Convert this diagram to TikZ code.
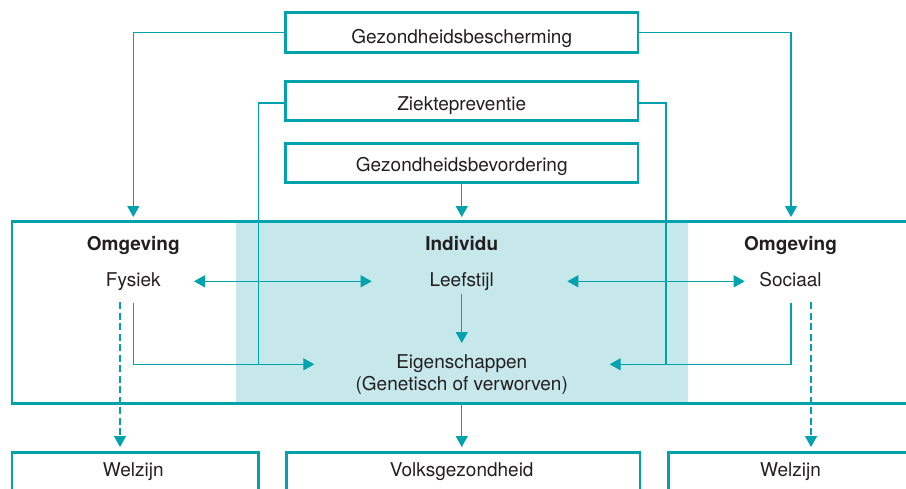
\documentclass[tikz,border=0pt]{standalone}
\usepackage{fontspec}
\setmainfont{TeX Gyre Heros}
\usetikzlibrary{arrows.meta}
\definecolor{tealline}{RGB}{0,163,173}
\definecolor{tealshade}{RGB}{198,232,235}
\definecolor{ink}{RGB}{35,31,32}
\begin{document}
\begin{tikzpicture}[x=1pt,y=-1pt,
  font=\fontsize{19}{22}\selectfont, text=ink,
  topbox/.style={draw=tealline, line width=2.8pt, minimum width=352.5pt,
    minimum height=39.5pt, inner sep=0pt, text depth=0pt},
  framebox/.style={draw=tealline, line width=2.8pt, inner sep=0pt, anchor=north west},
  lbl/.style={anchor=base, inner sep=0pt},
  boldlbl/.style={lbl, font=\fontsize{19}{22}\selectfont\bfseries},
  conn/.style={draw=tealline, line width=1.3pt},
  tip/.style={-{Triangle[length=11pt,width=12pt]}},
  twotips/.style={{Triangle[length=11pt,width=12pt]}-{Triangle[length=11pt,width=12pt]}},
  dashline/.style={dash pattern=on 7pt off 3.5pt}]

\useasboundingbox (0,0) rectangle (906,488);
\clip (0,0) rectangle (906,488);

% individual zone (shaded) and the surrounding frame
\node[fill=tealshade, inner sep=0pt, anchor=north west,
  minimum width=452pt, minimum height=182.2pt] (indiv) at (236,220) {};
\node[framebox, minimum width=930pt, minimum height=182.2pt] (env) at (10.5,220) {};

% the three approaches at the top
\node[topbox, text height=21.2pt] (gb)  at (461.75,32.5) {Gezondheidsbescherming};
\node[topbox, text height=18.2pt] (zp)  at (461.75,101)  {Ziektepreventie};
\node[topbox, text height=16.6pt] (gbv) at (461.75,163)  {Gezondheidsbevordering};

% outcome boxes at the bottom
\node[framebox, minimum width=246.5pt, minimum height=60pt] (welL) at (10.5,450.7) {};
\node[framebox, minimum width=353.5pt, minimum height=60pt] (vg)   at (285,450.7)  {};
\node[framebox, minimum width=300pt,   minimum height=60pt] (welR) at (667,450.7)  {};
\node[lbl] (welLt) at (133.3,476.3) {Welzijn};
\node[lbl] (vgt)   at (461.75,476.3) {Volksgezondheid};
\node[lbl] (welRt) at (790.5,476.3) {Welzijn};

% labels inside the frame
\node[boldlbl] (omgL) at (133.3,250.5) {Omgeving};
\node[boldlbl] (ind)  at (461.75,250.5) {Individu};
\node[boldlbl] (omgR) at (790.5,250.5) {Omgeving};
\node[lbl] (fys)  at (133.3,286.5)  {Fysiek};
\node[lbl] (lfs)  at (461.75,286.5) {Leefstijl};
\node[lbl] (soc)  at (790.5,286.5)  {Sociaal};
\node[lbl] (eig1) at (461.75,368)   {Eigenschappen};
\node[lbl] (eig2) at (461.75,390)   {(Genetisch of verworven)};

% connector end points
\coordinate (inL)  at (133.3,217);
\coordinate (inR)  at (791,217);
\coordinate (inM)  at (461.75,217);
\coordinate (fysA) at (194,281.3);
\coordinate (lfsA) at (371.7,281.3);
\coordinate (lfsB) at (567.3,281.3);
\coordinate (socA) at (744.7,281.3);
\coordinate (fysD) at (133.3,303.3);
\coordinate (socD) at (791,303.3);
\coordinate (eigL) at (314.3,364.3);
\coordinate (eigR) at (609.7,364.3);
\coordinate (jL)   at (258.3,364.3);
\coordinate (jR)   at (666,364.3);
\coordinate (lfsD) at (461.75,294);
\coordinate (eigT) at (461.75,343);
\coordinate (envB) at (461.75,402);
\coordinate (vgT)  at (461.75,447);
\coordinate (dL1)  at (120,302);
\coordinate (dL2)  at (120,447);
\coordinate (dR1)  at (811,302);
\coordinate (dR2)  at (811,447);

% protection acts on both environments
\draw[conn,tip] (gb.west) -| (inL);
\draw[conn,tip] (gb.east) -| (inR);
% promotion acts on the individual
\draw[conn,tip] (gbv.south) -- (inM);
% prevention reaches the individual's characteristics
\draw[conn] ([yshift=-2pt]zp.west) -| (jL);
\draw[conn] ([yshift=-2pt]zp.east) -| (jR);

% interactions inside the frame
\draw[conn,twotips] (fysA) -- (lfsA);
\draw[conn,twotips] (lfsB) -- (socA);
\draw[conn,tip] (fysD) |- (eigL);
\draw[conn,tip] (socD) |- (eigR);
\draw[conn,tip] (lfsD) -- (eigT);

% outcomes
\draw[conn,tip] (envB) -- (vgT);
\draw[conn,tip,dashline] (dL1) -- (dL2);
\draw[conn,tip,dashline] (dR1) -- (dR2);
\end{tikzpicture}
\end{document}
